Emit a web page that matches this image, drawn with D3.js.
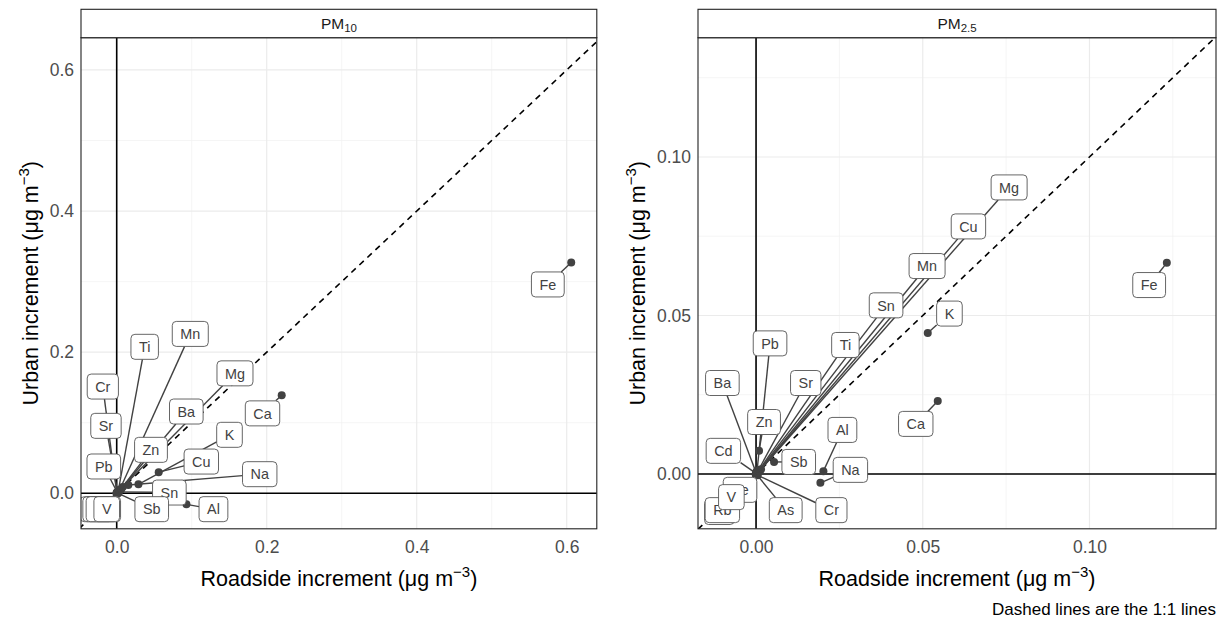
<!DOCTYPE html>
<html><head><meta charset="utf-8">
<script src="https://cdn.jsdelivr.net/npm/d3@7"></script>
<style>
body{margin:0;background:#fff}
svg{display:block}
text{font-family:"Liberation Sans",Arial,Helvetica,sans-serif}
</style>
</head><body>
<svg id="chart" width="1225" height="621"></svg>
<script>
// ---------------- PM10 data ----------------
const pm10Elements = ["Fe","Ca","Al","Cu","K","Na","Mg","Ba","Mn","Ti","Cr","Sr","Pb","Zn","Sn","Sb","As","Cd","Rb","V"];
const pm10Roadside = [0.606,0.220,0.093,0.056,0.029,0.0155,0.008,0.006,0.004,0.002,0.000,0.001,0.001,0.005,0.003,0.002,0.000,0.000,0.000,0.001];
const pm10Urban    = [0.327,0.139,-0.0156,0.030,0.0127,0.0118,0.009,0.006,0.005,0.003,0.001,0.002,0.001,0.005,0.002,0.000,0.000,0.000,0.000,0.000];
// repelled label anchor positions (data units)
const pm10LabelRoadside = [0.5748,0.1944,0.129,0.1128,0.1504,0.1907,0.1577,0.0928,0.0981,0.0373,-0.0185,-0.0143,-0.0172,0.0457,0.0702,0.0467,-0.0267,-0.0222,-0.0178,-0.0133];
const pm10LabelUrban    = [0.296,0.1133,-0.0225,0.045,0.0829,0.0271,0.170,0.1159,0.2259,0.2076,0.1513,0.0956,0.038,0.0616,0.0011,-0.0225,-0.0225,-0.0225,-0.0225,-0.0225];
const pm10Ticks = [0, 0.2, 0.4, 0.6];
const pm10Minor = [0.1, 0.3, 0.5];

// ---------------- PM2.5 data ----------------
const pm25Elements = ["Fe","Mg","Cu","Mn","Sn","Ti","K","Ca","Pb","Ba","Sr","Zn","Cd","Al","Sb","Na","As","Cr","Ni","Rb","Se","V"];
const pm25Roadside = [0.1232,0.0015,0.0012,0.0010,0.0008,0.0006,0.0515,0.0545,0.0003,0.0000,0.0004,0.0009,0.0000,0.0202,0.0054,0.0193,0.0003,0.0005,0.0000,-0.0001,0.0000,0.0000];
const pm25Urban    = [0.0666,0.0015,0.0012,0.0010,0.0009,0.0007,0.0445,0.0230,0.0010,0.0005,0.0006,0.0073,0.0002,0.0009,0.0038,-0.0028,-0.0003,-0.0004,0.0000,-0.0001,0.0000,-0.0001];
const pm25LabelRoadside = [0.1179,0.0759,0.0637,0.0513,0.0390,0.0268,0.0580,0.0479,0.0042,-0.0101,0.0149,0.0024,-0.0098,0.0259,0.0128,0.0283,0.0089,0.0226,-0.0110,-0.0101,-0.0048,-0.0074];
const pm25LabelUrban    = [0.0596,0.0904,0.0781,0.0656,0.0532,0.0407,0.0506,0.0158,0.0412,0.0287,0.0287,0.0164,0.0073,0.0139,0.0038,0.0013,-0.0114,-0.0114,-0.0120,-0.0114,-0.0050,-0.0073];
const pm25Ticks = [0, 0.05, 0.10];
const pm25Minor = [0.025, 0.075, 0.125];

const xTitleMain = "Roadside increment (\u03bcg m";
const yTitleMain = "Urban increment (\u03bcg m";
const captionText = "Dashed lines are the 1:1 lines";

const svg = d3.select("#chart");
const INK = "#424242";

function measure(txt, size){
  const t = svg.append("text").attr("font-size", size).text(txt);
  const w = t.node().getComputedTextLength();
  t.remove();
  return w;
}

function drawPanel(cfg){
  const {left,right,top,bottom} = cfg.box;
  const x = d3.scaleLinear().domain(cfg.xDomain).range([left,right]);
  const y = d3.scaleLinear().domain(cfg.yDomain).range([bottom,top]);
  const g = svg.append("g");
  const clipId = "clip-" + cfg.id;
  svg.append("defs").append("clipPath").attr("id", clipId)
     .append("rect").attr("x",left).attr("y",top).attr("width",right-left).attr("height",bottom-top);

  g.append("rect").attr("x",left).attr("y",top).attr("width",right-left).attr("height",bottom-top).attr("fill","#fff");

  const grid = g.append("g");
  cfg.minor.forEach(v=>{
    if (v>cfg.xDomain[0] && v<cfg.xDomain[1]) grid.append("line").attr("x1",x(v)).attr("x2",x(v)).attr("y1",top).attr("y2",bottom).attr("stroke","#f0f0f0").attr("stroke-width",0.7);
    if (v>cfg.yDomain[0] && v<cfg.yDomain[1]) grid.append("line").attr("y1",y(v)).attr("y2",y(v)).attr("x1",left).attr("x2",right).attr("stroke","#f0f0f0").attr("stroke-width",0.7);
  });
  cfg.ticks.forEach(v=>{
    grid.append("line").attr("x1",x(v)).attr("x2",x(v)).attr("y1",top).attr("y2",bottom).attr("stroke","#ebebeb").attr("stroke-width",1.2);
    grid.append("line").attr("y1",y(v)).attr("y2",y(v)).attr("x1",left).attr("x2",right).attr("stroke","#ebebeb").attr("stroke-width",1.2);
  });

  const inner = g.append("g").attr("clip-path", `url(#${clipId})`);
  // reference lines
  inner.append("line").attr("x1",left).attr("x2",right).attr("y1",y(0)).attr("y2",y(0)).attr("stroke","#000").attr("stroke-width",1.6);
  inner.append("line").attr("x1",x(0)).attr("x2",x(0)).attr("y1",top).attr("y2",bottom).attr("stroke","#000").attr("stroke-width",1.6);
  const lo = Math.min(cfg.xDomain[0], cfg.yDomain[0]), hi = Math.max(cfg.xDomain[1], cfg.yDomain[1]);
  inner.append("line").attr("x1",x(lo)).attr("y1",y(lo)).attr("x2",x(hi)).attr("y2",y(hi))
       .attr("stroke","#000").attr("stroke-width",1.6).attr("stroke-dasharray","6,5");

  const fs = 14.4, padX = 8, boxH = 25;
  const data = cfg.el.map((e,i)=>({e, rx:cfg.xv[i], ry:cfg.yv[i], lx:cfg.lx[i], ly:cfg.ly[i]}));
  data.forEach(d=>{
    d.w = measure(d.e, fs) + 2*padX; d.h = boxH;
    d.px = x(d.rx); d.py = y(d.ry); d.cx = x(d.lx); d.cy = y(d.ly);
  });

  // points
  inner.selectAll("circle.pt").data(data).enter().append("circle")
     .attr("cx",d=>d.px).attr("cy",d=>d.py).attr("r",4).attr("fill",INK);

  // segments
  data.forEach(d=>{
    const dx = d.px-d.cx, dy = d.py-d.cy, hw=d.w/2, hh=d.h/2;
    if (Math.abs(dx)<=hw && Math.abs(dy)<=hh) return;
    const tx = dx===0?Infinity:hw/Math.abs(dx), ty = dy===0?Infinity:hh/Math.abs(dy);
    const t = Math.min(tx,ty);
    const ex = d.cx+dx*t, ey = d.cy+dy*t;
    if (Math.hypot(d.px-ex, d.py-ey) < 4) return;
    inner.append("line").attr("x1",d.px).attr("y1",d.py).attr("x2",ex).attr("y2",ey)
         .attr("stroke",INK).attr("stroke-width",1.4);
  });

  // labels
  data.forEach(d=>{
    const lg = inner.append("g");
    lg.append("rect").attr("x",d.cx-d.w/2).attr("y",d.cy-d.h/2).attr("width",d.w).attr("height",d.h)
      .attr("rx",4).attr("ry",4).attr("fill","#fff").attr("stroke","#555").attr("stroke-width",0.9);
    lg.append("text").attr("x",d.cx).attr("y",d.cy).attr("dy","0.36em").attr("text-anchor","middle")
      .attr("font-size",fs).attr("fill",INK).text(d.e);
  });

  // border
  g.append("rect").attr("x",left).attr("y",top).attr("width",right-left).attr("height",bottom-top)
   .attr("fill","none").attr("stroke","#222").attr("stroke-width",1.1);

  // strip
  g.append("rect").attr("x",left).attr("y",9.3).attr("width",right-left).attr("height",top-9.3)
   .attr("fill","#fff").attr("stroke","#222").attr("stroke-width",1.1);
  const st = g.append("text").attr("x",(left+right)/2).attr("y",29).attr("text-anchor","middle")
   .attr("font-size",15.5).attr("fill","#1a1a1a");
  st.append("tspan").text("PM");
  st.append("tspan").attr("font-size",11.5).attr("dy",3).text(cfg.sub);

  // axes
  const ax = d3.axisBottom(x).tickValues(cfg.ticks).tickFormat(d3.format(cfg.fmt)).tickSize(0).tickPadding(12);
  const xa = g.append("g").attr("transform",`translate(0,${bottom})`).call(ax);
  const ay = d3.axisLeft(y).tickValues(cfg.ticks).tickFormat(d3.format(cfg.fmt)).tickSize(0).tickPadding(7);
  const ya = g.append("g").attr("transform",`translate(${left},0)`).call(ay);
  [xa,ya].forEach(a=>{
    a.select(".domain").remove();
    a.selectAll("text").attr("font-size",17.5).attr("fill","#4d4d4d").attr("font-family",'"Liberation Sans",Arial,sans-serif');
  });

  // titles
  const xt = g.append("text").attr("x",(left+right)/2).attr("y",586).attr("text-anchor","middle").attr("font-size",21.5).attr("fill","#000");
  xt.append("tspan").text(xTitleMain);
  xt.append("tspan").attr("font-size",15).attr("dy",-9).text("\u22123");
  xt.append("tspan").attr("dy",9).text(")");
  const yx = cfg.yTitleX, yc = (top+bottom)/2;
  const yt = g.append("text").attr("transform",`translate(${yx},${yc}) rotate(-90)`).attr("text-anchor","middle").attr("font-size",21.5).attr("fill","#000");
  yt.append("tspan").text(yTitleMain);
  yt.append("tspan").attr("font-size",15).attr("dy",-9).text("\u22123");
  yt.append("tspan").attr("dy",9).text(")");
}

drawPanel({id:"pm10", sub:"10", box:{left:81,right:596.8,top:37.7,bottom:528.8},
  xDomain:[-0.0476,0.6401], yDomain:[-0.0503,0.6457], ticks:pm10Ticks, minor:pm10Minor, fmt:".1f",
  el:pm10Elements, xv:pm10Roadside, yv:pm10Urban, lx:pm10LabelRoadside, ly:pm10LabelUrban, yTitleX:38});
drawPanel({id:"pm25", sub:"2.5", box:{left:698,right:1216,top:37.7,bottom:528.8},
  xDomain:[-0.01741,0.13795], yDomain:[-0.01729,0.13763], ticks:pm25Ticks, minor:pm25Minor, fmt:".2f",
  el:pm25Elements, xv:pm25Roadside, yv:pm25Urban, lx:pm25LabelRoadside, ly:pm25LabelUrban, yTitleX:645});

svg.append("text").attr("x",1216).attr("y",615).attr("text-anchor","end").attr("font-size",17).attr("fill","#000").text(captionText);
</script>
</body></html>
